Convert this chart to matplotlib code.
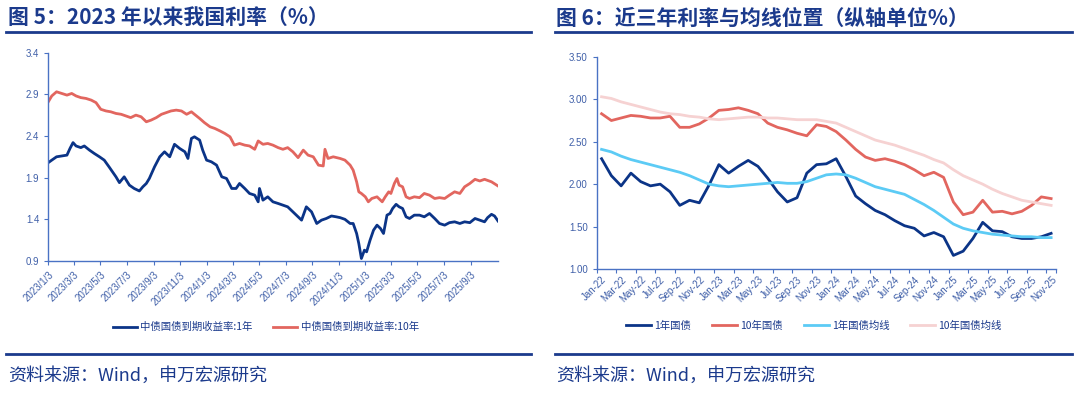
import matplotlib.pyplot as plt
import pandas as pd
from matplotlib.lines import Line2D

plt.rcParams['font.family'] = ['Noto Sans CJK SC', 'DejaVu Sans']

# ---- 图5: daily yields since 2023 (sampled from the chart) ----
d1y = ["2023-01-03", "2023-01-11", "2023-01-22", "2023-02-03", "2023-02-15", "2023-02-22",
       "2023-03-01", "2023-03-08", "2023-03-19", "2023-03-27", "2023-04-08", "2023-04-19",
       "2023-05-01", "2023-05-12", "2023-05-23", "2023-05-31", "2023-06-08", "2023-06-16",
       "2023-06-27", "2023-07-09", "2023-07-20", "2023-08-01", "2023-08-09", "2023-08-17",
       "2023-08-24", "2023-09-05", "2023-09-17", "2023-09-28", "2023-10-10", "2023-10-21",
       "2023-11-02", "2023-11-14", "2023-11-21", "2023-11-29", "2023-12-06", "2023-12-18",
       "2023-12-25", "2024-01-03", "2024-01-14", "2024-01-26", "2024-02-07", "2024-02-18",
       "2024-03-01", "2024-03-11", "2024-03-19", "2024-03-31", "2024-04-11", "2024-04-23",
       "2024-05-01", "2024-05-04", "2024-05-12", "2024-05-23", "2024-06-04", "2024-06-16",
       "2024-06-27", "2024-07-08", "2024-07-20", "2024-08-01", "2024-08-09", "2024-08-20",
       "2024-09-01", "2024-09-13", "2024-09-24", "2024-10-05", "2024-10-17", "2024-10-28",
       "2024-11-06", "2024-11-17", "2024-11-29", "2024-12-06", "2024-12-14", "2024-12-19",
       "2024-12-25", "2025-01-01", "2025-01-06", "2025-01-14", "2025-01-22", "2025-01-30",
       "2025-02-07", "2025-02-14", "2025-02-22", "2025-03-01", "2025-03-07", "2025-03-15",
       "2025-03-22", "2025-03-30", "2025-04-07", "2025-04-15", "2025-04-26", "2025-05-08",
       "2025-05-19", "2025-05-31", "2025-06-12", "2025-06-23", "2025-07-05", "2025-07-16",
       "2025-07-28", "2025-08-09", "2025-08-20", "2025-09-01", "2025-09-13", "2025-09-24",
       "2025-10-05", "2025-10-12", "2025-10-21", "2025-10-28", "2025-11-05"]
y1y = [2.08, 2.11, 2.15, 2.16, 2.17, 2.25,
       2.32, 2.28, 2.26, 2.28, 2.23, 2.19,
       2.15, 2.11, 2.03, 1.97, 1.91, 1.84,
       1.91, 1.81, 1.77, 1.74, 1.79, 1.83,
       1.89, 2.03, 2.15, 2.21, 2.15, 2.30,
       2.25, 2.21, 2.13, 2.37, 2.39, 2.35,
       2.23, 2.11, 2.09, 2.05, 1.91, 1.89,
       1.77, 1.77, 1.83, 1.77, 1.71, 1.69,
       1.61, 1.77, 1.63, 1.67, 1.61, 1.59,
       1.57, 1.55, 1.49, 1.43, 1.39, 1.55,
       1.49, 1.35, 1.39, 1.41, 1.44, 1.43,
       1.42, 1.40, 1.35, 1.35, 1.23, 1.11,
       0.93, 1.03, 1.01, 1.15, 1.27, 1.33,
       1.29, 1.23, 1.45, 1.47, 1.53, 1.58,
       1.55, 1.53, 1.43, 1.41, 1.45, 1.45,
       1.43, 1.47, 1.41, 1.35, 1.33, 1.36,
       1.37, 1.35, 1.37, 1.36, 1.41, 1.39,
       1.37, 1.42, 1.46, 1.44, 1.38]

d10y = ["2023-01-03", "2023-01-11", "2023-01-22", "2023-02-03", "2023-02-15", "2023-02-26",
        "2023-03-08", "2023-03-19", "2023-03-31", "2023-04-12", "2023-04-23", "2023-05-04",
        "2023-05-16", "2023-05-27", "2023-06-08", "2023-06-20", "2023-07-01", "2023-07-12",
        "2023-07-24", "2023-08-05", "2023-08-17", "2023-08-28", "2023-09-09", "2023-09-21",
        "2023-10-02", "2023-10-13", "2023-10-25", "2023-11-06", "2023-11-18", "2023-11-29",
        "2023-12-06", "2023-12-18", "2023-12-29", "2024-01-11", "2024-01-22", "2024-02-03",
        "2024-02-14", "2024-02-26", "2024-03-07", "2024-03-19", "2024-03-31", "2024-04-11",
        "2024-04-23", "2024-05-01", "2024-05-12", "2024-05-23", "2024-06-04", "2024-06-16",
        "2024-06-27", "2024-07-08", "2024-07-20", "2024-08-01", "2024-08-13", "2024-08-24",
        "2024-09-05", "2024-09-17", "2024-09-28", "2024-10-02", "2024-10-09", "2024-10-21",
        "2024-11-06", "2024-11-17", "2024-11-29", "2024-12-06", "2024-12-14", "2024-12-19",
        "2024-12-25", "2025-01-03", "2025-01-10", "2025-01-18", "2025-01-30", "2025-02-11",
        "2025-02-18", "2025-02-26", "2025-03-03", "2025-03-11", "2025-03-17", "2025-03-22",
        "2025-03-30", "2025-04-07", "2025-04-15", "2025-04-26", "2025-05-08", "2025-05-19",
        "2025-05-31", "2025-06-12", "2025-06-23", "2025-07-05", "2025-07-16", "2025-07-28",
        "2025-08-09", "2025-08-20", "2025-09-01", "2025-09-13", "2025-09-24", "2025-10-05",
        "2025-10-21", "2025-11-05"]
y10y = [2.81, 2.88, 2.93, 2.91, 2.89, 2.91,
        2.88, 2.86, 2.85, 2.83, 2.80, 2.72,
        2.70, 2.69, 2.67, 2.66, 2.64, 2.62,
        2.65, 2.63, 2.57, 2.59, 2.62, 2.66,
        2.68, 2.70, 2.71, 2.70, 2.66, 2.69,
        2.66, 2.61, 2.56, 2.51, 2.49, 2.46,
        2.43, 2.39, 2.29, 2.31, 2.29, 2.28,
        2.24, 2.34, 2.30, 2.31, 2.29, 2.26,
        2.24, 2.26, 2.21, 2.14, 2.23, 2.17,
        2.15, 2.05, 2.04, 2.24, 2.13, 2.15,
        2.13, 2.11, 2.05, 1.99, 1.85, 1.73,
        1.71, 1.67, 1.61, 1.65, 1.67, 1.61,
        1.67, 1.73, 1.71, 1.83, 1.89, 1.81,
        1.79, 1.67, 1.65, 1.67, 1.66, 1.71,
        1.69, 1.65, 1.66, 1.65, 1.69, 1.73,
        1.71, 1.79, 1.83, 1.88, 1.86, 1.88,
        1.85, 1.80]

ticks5 = ["2023/1/3", "2023/3/3", "2023/5/3", "2023/7/3", "2023/9/3", "2023/11/3",
          "2024/1/3", "2024/3/3", "2024/5/3", "2024/7/3", "2024/9/3", "2024/11/3",
          "2025/1/3", "2025/3/3", "2025/5/3", "2025/7/3", "2025/9/3"]

# ---- 图6: monthly yields and moving averages ----
months6 = ["Jan-22", "Feb-22", "Mar-22", "Apr-22", "May-22", "Jun-22", "Jul-22", "Aug-22",
           "Sep-22", "Oct-22", "Nov-22", "Dec-22", "Jan-23", "Feb-23", "Mar-23", "Apr-23",
           "May-23", "Jun-23", "Jul-23", "Aug-23", "Sep-23", "Oct-23", "Nov-23", "Dec-23",
           "Jan-24", "Feb-24", "Mar-24", "Apr-24", "May-24", "Jun-24", "Jul-24", "Aug-24",
           "Sep-24", "Oct-24", "Nov-24", "Dec-24", "Jan-25", "Feb-25", "Mar-25", "Apr-25",
           "May-25", "Jun-25", "Jul-25", "Aug-25", "Sep-25", "Oct-25", "Nov-25"]
bond1y = [2.30, 2.10, 1.98, 2.13, 2.03, 1.98, 2.00, 1.91, 1.75, 1.81, 1.78, 1.99,
          2.23, 2.13, 2.21, 2.28, 2.21, 2.07, 1.91, 1.79, 1.84, 2.13, 2.23, 2.24,
          2.30, 2.09, 1.86, 1.77, 1.69, 1.64, 1.57, 1.51, 1.48, 1.39, 1.43, 1.38,
          1.16, 1.21, 1.36, 1.55, 1.45, 1.44, 1.38, 1.36, 1.36, 1.38, 1.42]
bond10y = [2.83, 2.75, 2.78, 2.81, 2.80, 2.78, 2.78, 2.80, 2.67, 2.67, 2.71, 2.78,
           2.87, 2.88, 2.90, 2.87, 2.83, 2.72, 2.67, 2.64, 2.60, 2.57, 2.70, 2.68,
           2.62, 2.52, 2.41, 2.32, 2.28, 2.30, 2.27, 2.23, 2.17, 2.10, 2.14, 2.08,
           1.79, 1.64, 1.67, 1.81, 1.67, 1.68, 1.65, 1.68, 1.75, 1.85, 1.83]
ma1y = [2.41, 2.38, 2.33, 2.29, 2.26, 2.23, 2.20, 2.17, 2.14, 2.10, 2.05, 2.00,
        1.98, 1.97, 1.98, 1.99, 2.00, 2.01, 2.02, 2.01, 2.01, 2.03, 2.07, 2.11,
        2.12, 2.11, 2.07, 2.02, 1.97, 1.94, 1.91, 1.88, 1.82, 1.76, 1.69, 1.61,
        1.53, 1.48, 1.45, 1.43, 1.41, 1.40, 1.39, 1.38, 1.38, 1.37, 1.37]
ma10y = [3.03, 3.01, 2.97, 2.94, 2.91, 2.88, 2.85, 2.83, 2.82, 2.80, 2.79, 2.77,
         2.76, 2.77, 2.78, 2.79, 2.79, 2.78, 2.78, 2.77, 2.76, 2.76, 2.76, 2.74,
         2.72, 2.67, 2.62, 2.57, 2.52, 2.49, 2.46, 2.42, 2.38, 2.34, 2.29, 2.25,
         2.17, 2.10, 2.05, 2.00, 1.94, 1.89, 1.85, 1.81, 1.79, 1.77, 1.75]

NAVY = "#1B3A8C"
AXC = "#4A72C4"
TXT = "#3F5FA8"
W, H = 1080, 396

fig = plt.figure(figsize=(10.8, 3.96), dpi=100)


def style_axes(ax):
    for s in ["top", "right"]:
        ax.spines[s].set_visible(False)
    for s in ["left", "bottom"]:
        ax.spines[s].set_color(AXC)
        ax.spines[s].set_linewidth(1.0)
    ax.tick_params(axis="both", which="major", direction="out", length=3,
                   width=0.8, color=AXC, labelcolor=TXT, labelsize=7)
    for lab in ax.get_xticklabels() + ax.get_yticklabels():
        lab.set_family("Liberation Sans")


# ---- left chart ----
ax5 = fig.add_axes([48.3 / W, 1 - 261 / H, 449.7 / W, 208.4 / H])
ax5.plot(pd.to_datetime(d1y), y1y, color="#0B3487", lw=2.0, label="中债国债到期收益率:1年")
ax5.plot(pd.to_datetime(d10y), y10y, color="#E2665F", lw=2.0, label="中债国债到期收益率:10年")
ax5.set_xlim(pd.Timestamp("2023-01-03"), pd.Timestamp("2025-11-05"))
ax5.set_ylim(0.9, 3.4)
ax5.set_yticks([0.9, 1.4, 1.9, 2.4, 2.9, 3.4])
ax5.set_yticklabels(["0.9", "1.4", "1.9", "2.4", "2.9", "3.4"])
ax5.set_xticks(pd.to_datetime(ticks5, format="%Y/%m/%d"))
ax5.set_xticklabels(ticks5, rotation=45, ha="right", rotation_mode="anchor")
style_axes(ax5)
ax5.legend(loc="center", bbox_to_anchor=(0.484, -0.317), ncol=2, frameon=False,
           fontsize=7.5, labelcolor=NAVY, handlelength=2.3, handletextpad=0.3,
           columnspacing=2.0)

# ---- right chart ----
x6 = list(range(len(months6)))
ax6 = fig.add_axes([596.7 / W, 1 - 269 / H, 459.3 / W, 212.1 / H])
ax6.plot(x6, bond1y, color="#0B3487", lw=2.0, label="1年国债")
ax6.plot(x6, bond10y, color="#E2665F", lw=2.0, label="10年国债")
ax6.plot(x6, ma1y, color="#5CCBF5", lw=2.0, label="1年国债均线")
ax6.plot(x6, ma10y, color="#F6D2D2", lw=2.0, label="10年国债均线")
ax6.set_xlim(-0.5, len(months6) - 0.5)
ax6.set_ylim(1.0, 3.5)
ax6.set_yticks([1.0, 1.5, 2.0, 2.5, 3.0, 3.5])
ax6.set_yticklabels(["1.00", "1.50", "2.00", "2.50", "3.00", "3.50"])
ax6.set_xticks([i - 0.5 for i in x6[::2]] + [len(months6) - 0.5])
ax6.set_xticklabels([])
ax6.set_xticks(x6[::2], minor=True)
ax6.set_xticklabels(months6[::2], minor=True, rotation=45, ha="right",
                    rotation_mode="anchor")
style_axes(ax6)
ax6.tick_params(axis="x", which="minor", length=0, labelcolor=TXT, labelsize=7, pad=4)
for lab in ax6.get_xticklabels(minor=True):
    lab.set_family("Liberation Sans")
ax6.legend(loc="center", bbox_to_anchor=(0.473, -0.269), ncol=4, frameon=False,
           fontsize=7.5, labelcolor=NAVY, handlelength=2.4, handletextpad=0.3,
           columnspacing=2.0)

# ---- titles, rules and sources ----
fig.text(8 / W, 1 - 18 / H, "图 5：2023 年以来我国利率（%）", fontsize=15,
         fontweight="bold", color=NAVY, va="center", ha="left")
fig.text(556 / W, 1 - 18 / H, "图 6：近三年利率与均线位置（纵轴单位%）", fontsize=15,
         fontweight="bold", color=NAVY, va="center", ha="left")
for x0, x1 in [(6, 531), (555, 1072)]:
    fig.add_artist(Line2D([x0 / W, x1 / W], [1 - 32 / H] * 2, color=NAVY, lw=2))
    fig.add_artist(Line2D([x0 / W, x1 / W], [1 - 354 / H] * 2, color=NAVY, lw=2))
fig.text(8 / W, 1 - 376 / H, "资料来源：Wind，申万宏源研究", fontsize=13,
         color=NAVY, va="center", ha="left")
fig.text(556 / W, 1 - 376 / H, "资料来源：Wind，申万宏源研究", fontsize=13,
         color=NAVY, va="center", ha="left")

fig.savefig("out.png", dpi=100)
